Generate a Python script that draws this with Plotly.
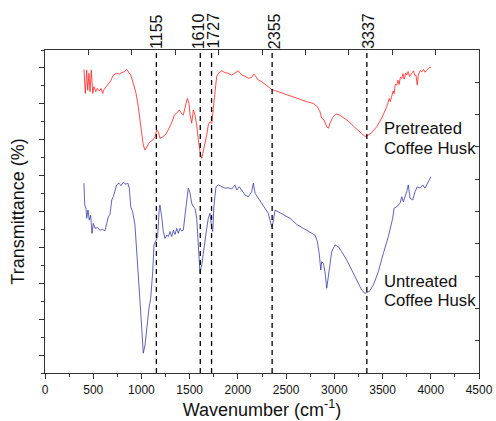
import plotly.graph_objects as go

# ---------------- data ----------------
red_wn = [404, 418, 432, 443, 456, 467, 480, 495, 508, 526, 542, 563, 581, 598, 612, 633, 656, 681, 708,
          743, 770, 795, 819, 847, 868, 889, 916, 944, 967, 985, 1003, 1019, 1037, 1055, 1081, 1117, 1141,
          1158, 1175, 1192, 1220, 1255, 1279, 1303, 1324, 1341, 1366, 1393, 1410, 1434, 1459, 1476, 1493,
          1504, 1521, 1538, 1555, 1573, 1590, 1607, 1625, 1641, 1659, 1677, 1693, 1711, 1729, 1745, 1763,
          1780, 1797, 1832, 1866, 1901, 1936, 1970, 2004, 2040, 2074, 2108, 2143, 2167, 2188, 2212, 2247,
          2281, 2315, 2351, 2385, 2437, 2506, 2575, 2644, 2714, 2782, 2824, 2851, 2869, 2893, 2921, 2938,
          2955, 2983, 3017, 3052, 3093, 3145, 3197, 3249, 3294, 3318, 3352, 3388, 3439, 3491, 3543, 3570,
          3580, 3595, 3610, 3620, 3632, 3647, 3660, 3672, 3685, 3699, 3712, 3725, 3740, 3750, 3765, 3780,
          3802, 3820, 3835, 3847, 3860, 3871, 3890, 3906, 3925, 3940, 3958, 3980, 4002]
red_t = [84.6, 77.9, 84.4, 78.8, 83.5, 78.4, 84.4, 77.9, 79.8, 78.4, 79.3, 78.6, 79.3, 77.9, 79.0, 79.6,
         80.5, 81.4, 83.0, 83.5, 83.3, 83.7, 83.9, 84.6, 83.9, 83.0, 80.7, 77.9, 74.2, 70.5, 66.8, 63.5,
         62.1, 62.9, 64.2, 64.9, 65.8, 67.7, 67.2, 65.4, 65.8, 66.6, 67.7, 69.1, 70.5, 71.9, 72.4, 73.3,
         72.5, 71.9, 74.7, 76.5, 75.1, 71.9, 69.6, 73.3, 71.9, 69.1, 64.9, 61.7, 59.8, 61.7, 64.4, 66.3,
         69.1, 70.0, 69.6, 73.3, 78.8, 82.6, 83.5, 84.2, 83.7, 83.5, 83.0, 83.5, 84.2, 83.0, 82.7, 82.1,
         82.4, 83.3, 82.6, 81.6, 81.2, 80.5, 79.8, 79.0, 78.7, 78.2, 77.5, 76.8, 76.1, 75.6, 75.1, 74.2,
         72.8, 71.0, 70.5, 68.6, 68.2, 69.6, 71.2, 72.2, 71.9, 71.1, 70.2, 68.8, 67.5, 66.3, 65.9, 66.3,
         67.0, 68.6, 71.0, 74.2, 76.5, 75.6, 77.5, 78.6, 77.8, 80.4, 80.2, 81.6, 80.4, 82.4, 82.1, 83.4,
         81.9, 83.6, 83.0, 84.0, 82.6, 83.5, 84.2, 82.9, 83.0, 80.2, 83.0, 84.3, 83.9, 84.6, 83.8, 84.4,
         85.0, 85.2]

blue_wn = [404, 412, 425, 432, 446, 459, 474, 487, 501, 518, 542, 570, 598, 622, 640, 656, 674, 692, 708,
           726, 743, 767, 788, 812, 837, 858, 874, 889, 909, 933, 951, 967, 985, 1003, 1019, 1037, 1055,
           1078, 1096, 1117, 1130, 1151, 1168, 1185, 1192, 1210, 1227, 1244, 1262, 1279, 1296, 1314, 1330,
           1348, 1366, 1382, 1400, 1417, 1434, 1462, 1486, 1504, 1521, 1538, 1555, 1573, 1590, 1607, 1625,
           1641, 1659, 1677, 1693, 1711, 1729, 1739, 1752, 1773, 1797, 1832, 1866, 1901, 1936, 1970, 1988,
           2015, 2040, 2074, 2108, 2143, 2160, 2178, 2212, 2247, 2281, 2315, 2333, 2351, 2367, 2385, 2419,
           2471, 2540, 2610, 2678, 2748, 2800, 2824, 2845, 2859, 2869, 2886, 2903, 2921, 2938, 2955, 2973,
           3007, 3041, 3076, 3128, 3180, 3232, 3284, 3318, 3363, 3404, 3456, 3508, 3560, 3605, 3619, 3647,
           3681, 3699, 3715, 3750, 3767, 3785, 3813, 3837, 3860, 3888, 3916, 3940, 3974, 4002]
blue_t = [52.9, 46.8, 45.9, 43.1, 45.4, 42.6, 44.0, 38.9, 41.7, 40.3, 40.5, 39.8, 40.0, 39.6, 41.7, 43.5,
          44.2, 48.2, 49.1, 50.5, 52.4, 52.9, 52.2, 53.1, 52.6, 52.9, 51.5, 46.3, 44.9, 41.2, 34.7, 28.2,
          19.9, 12.5, 5.5, 7.8, 12.5, 18.0, 20.8, 28.2, 35.7, 37.1, 38.0, 45.9, 46.8, 43.5, 39.4, 37.5,
          38.4, 38.0, 39.4, 38.0, 39.8, 38.6, 40.3, 38.9, 40.3, 39.6, 39.8, 46.3, 51.5, 50.1, 47.3, 46.3,
          45.9, 43.1, 36.6, 27.8, 30.1, 33.8, 37.1, 40.3, 43.1, 44.5, 40.3, 39.4, 46.8, 51.9, 52.4, 51.9,
          51.5, 51.6, 51.3, 52.4, 51.0, 51.9, 51.0, 49.6, 49.1, 50.5, 52.9, 50.1, 48.7, 47.3, 45.9, 44.5,
          42.6, 40.8, 42.2, 45.4, 44.9, 44.2, 43.1, 41.4, 40.3, 39.2, 38.4, 36.6, 32.9, 28.7, 31.0, 30.6,
          28.2, 23.6, 27.3, 31.0, 33.8, 35.7, 35.2, 33.8, 31.5, 28.7, 25.9, 23.1, 22.2, 22.7, 24.5, 28.2,
          33.3, 38.0, 43.1, 45.9, 46.3, 47.3, 49.1, 47.7, 50.5, 52.4, 48.7, 48.2, 50.5, 51.9, 51.5, 52.4,
          51.5, 53.3, 54.7]

peak_wn = [1155, 1610, 1727, 2355, 3337]
peak_labels = ["1155", "1610", "1727", "2355", "3337"]
peak_label_shift = [0, -2, 1, 2, 1]

x_ticks = [0, 500, 1000, 1500, 2000, 2500, 3000, 3500, 4000, 4500]
x_minor = [250, 750, 1250, 1750, 2250, 2750, 3250, 3750, 4250]
y_major = [5, 15, 25, 35, 45, 55, 65, 75, 85]
y_minor = [0, 10, 20, 30, 40, 50, 60, 70, 80, 90]
frame_ticks = [1, 2, 3, 4, 5, 6, 7, 8, 9]

label_lines = ["Pretreated", "Coffee Husk", "Untreated", "Coffee Husk"]
label_x = [3525, 3525, 3525, 3525]
label_y = [68.2, 62.6, 25.5, 20.2]

FONT = "Liberation Sans, Arial, sans-serif"
AX = "#333333"

fig = go.Figure()
fig.add_trace(go.Scatter(x=red_wn, y=red_t, mode="lines",
                         line=dict(color="#ff2020", width=0.8), showlegend=False))
fig.add_trace(go.Scatter(x=blue_wn, y=blue_t, mode="lines",
                         line=dict(color="#3a3aa8", width=0.8), showlegend=False))
# invisible trace to activate the frame axes (top / right)
fig.add_trace(go.Scatter(x=[0], y=[0], xaxis="x2", yaxis="y2", mode="markers",
                         marker=dict(opacity=0), showlegend=False, hoverinfo="skip"))

for wn in peak_wn:
    fig.add_shape(type="line", xref="x", yref="paper", x0=wn, x1=wn, y0=0, y1=1,
                  line=dict(color="black", width=1.3, dash="5px,4px"), layer="above")

for wn, lab, sh in zip(peak_wn, peak_labels, peak_label_shift):
    fig.add_annotation(x=wn, xref="x", y=1, yref="paper", text=lab, textangle=-90,
                       showarrow=False, xanchor="center", yanchor="bottom", yshift=-1, xshift=sh,
                       font=dict(family=FONT, size=16, color="#111111"))

for lab, lx, ly in zip(label_lines, label_x, label_y):
    fig.add_annotation(x=lx, y=ly, xref="x", yref="y", text=lab, showarrow=False,
                       xanchor="left", yanchor="middle", align="left", borderpad=0, xshift=-2,
                       font=dict(family=FONT, size=16.7, color="#111111"))

fig.update_layout(
    width=496, height=421,
    margin=dict(l=45, r=17, t=50, b=48, pad=0, autoexpand=False),
    paper_bgcolor="white", plot_bgcolor="white",
    font=dict(family=FONT, size=12, color="#111111"),
    xaxis=dict(range=[0, 4500], tickvals=x_ticks, ticks="outside", ticklen=5, tickwidth=1.2,
               tickcolor=AX, showline=True, linecolor=AX, linewidth=1.3, showgrid=False,
               zeroline=False, automargin=False, tickfont=dict(size=12, family=FONT, color="#111111"),
               minor=dict(tickvals=x_minor, ticks="outside", ticklen=3, tickcolor=AX, tickwidth=1.2),
               title=dict(text="Wavenumber (cm<sup>-1</sup>)", font=dict(size=18, family=FONT),
                          standoff=7)),
    yaxis=dict(range=[0, 90], tickvals=y_major, ticks="outside", ticklen=5, tickwidth=1.2,
               tickcolor=AX, showline=True, linecolor=AX, linewidth=1.3, showgrid=False,
               zeroline=False, showticklabels=False, automargin=False,
               minor=dict(tickvals=y_minor, ticks="outside", ticklen=3, tickcolor=AX, tickwidth=1.2),
               title=dict(text="Transmittance (%)", font=dict(size=18, family=FONT), standoff=9)),
    xaxis2=dict(overlaying="x", side="top", range=[0, 10], tickvals=frame_ticks, ticks="inside",
                ticklen=5, tickwidth=1.2, tickcolor=AX, showline=True, linecolor=AX, linewidth=1.3,
                showgrid=False, zeroline=False, showticklabels=False, automargin=False),
    yaxis2=dict(overlaying="y", side="right", range=[0, 10], tickvals=frame_ticks, ticks="inside",
                ticklen=4, tickwidth=1.2, tickcolor=AX, showline=True, linecolor=AX, linewidth=1.3,
                showgrid=False, zeroline=False, showticklabels=False, automargin=False),
)

fig.write_html("out.html", config={"displayModeBar": False},
               post_script="document.body.style.margin='0';document.body.style.padding='0';")
